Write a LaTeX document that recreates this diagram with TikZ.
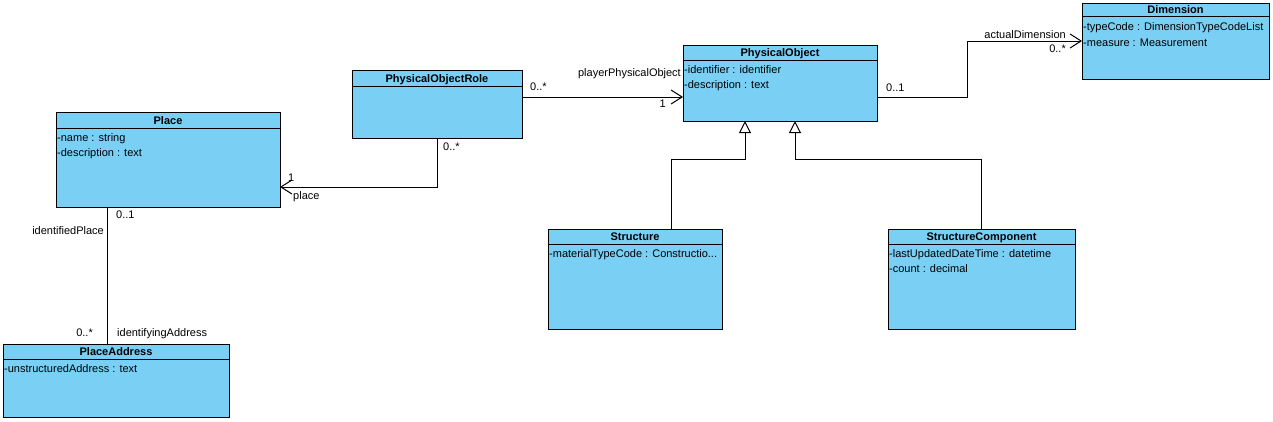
\documentclass[tikz,border=0pt]{standalone}
\usepackage{fontspec}
\setmainfont{Liberation Sans}
\usetikzlibrary{arrows.meta}
\definecolor{umlblue}{RGB}{122,207,245}
\newcommand{\umlclass}[7]{%
  \node[classbox, minimum width={#4-#2}, minimum height={#5-#3}, anchor=north west] (#1) at (#2,#3) {};
  \draw[line width=1pt] ([yshift=-#6pt]#1.north west) -- ([yshift=-#6pt]#1.north east);
  \node[classtitle] (#1-title) at ([yshift={-(#6)/2*1pt}]#1.north) {#7};
}
\begin{document}
\begin{tikzpicture}[x=1pt,y=-1pt,
  font=\fontsize{11}{13}\selectfont,
  classbox/.style={draw, line width=1pt, fill=umlblue, inner sep=0pt, outer sep=0pt},
  classtitle/.style={font=\fontsize{11}{13}\selectfont\bfseries, inner sep=0pt, text height=9pt, text depth=1pt},
  attr/.style={anchor=west, inner sep=0pt, text height=9pt, text depth=1.5pt},
  lbl/.style={inner sep=0pt, text height=9pt, text depth=1.5pt},
  assoc/.style={line width=1pt, -{Straight Barb[length=11pt,width=14pt,line width=1pt]}},
  gen/.style={line width=1pt, -{Triangle[open,length=12pt,width=12pt,line width=1pt,fill=white]}},
  plain/.style={line width=1pt}]
\useasboundingbox (0,0) rectangle (1273,421);
\fill[white] (0,0) rectangle (1273,421);

% classes
\umlclass{Place}{56}{112}{280}{207}{16}{Place}
\node[attr] (Place-a1) at (57,137.5) {-name : string};
\node[attr] (Place-a2) at (57,152.5) {-description : text};

\umlclass{POR}{352}{70}{522}{138}{16}{PhysicalObjectRole}

\umlclass{PO}{683}{45}{877}{121}{15}{PhysicalObject}
\node[attr] (PO-a1) at (684,70) {-identifier : identifier};
\node[attr] (PO-a2) at (684,85) {-description : text};

\umlclass{Dim}{1082}{3}{1269}{79}{13}{Dimension}
\node[attr] (Dim-a1) at (1083,27) {-typeCode : DimensionTypeCodeList};
\node[attr] (Dim-a2) at (1083,42.5) {-measure : Measurement};

\umlclass{Str}{548}{229}{722}{329}{15}{Structure}
\node[attr] (Str-a1) at (549,254) {-materialTypeCode : Constructio...};

\umlclass{SC}{888}{229}{1075}{329}{15}{StructureComponent}
\node[attr] (SC-a1) at (889,254) {-lastUpdatedDateTime : datetime};
\node[attr] (SC-a2) at (889,269) {-count : decimal};

\umlclass{PA}{3}{344}{229}{417}{15}{PlaceAddress}
\node[attr] (PA-a1) at (4,368.5) {-unstructuredAddress : text};

% associations
\draw[assoc] ([yshift=7pt]POR.east) -- ([yshift=7pt]POR.east -| PO.west);
\node[lbl, anchor=west] (l1) at (530,87) {0..*};
\node[lbl, anchor=east] (l2) at (666,103.5) {1};
\node[lbl, anchor=east] (l3) at (681,73) {playerPhysicalObject};

\draw[assoc] (POR.south) |- ([yshift=-27.5pt]Place.east);
\node[lbl, anchor=west] (l4) at (443,146.5) {0..*};
\node[lbl, anchor=west] (l5) at (288,178) {1};
\node[lbl, anchor=west] (l6) at (293,195.5) {place};

\coordinate (bd) at (967,97);
\draw[assoc] (PO.east |- bd) -- (bd) |- (Dim.west);
\node[lbl, anchor=west] (l7) at (886,88) {0..1};
\node[lbl, anchor=east] (l8) at (1066,34.5) {actualDimension};
\node[lbl, anchor=east] (l9) at (1066,49) {0..*};

% generalizations
\coordinate (g1) at (745,159);
\coordinate (g2) at (795,159);
\draw[gen] (Str.north -| 671,0) |- (g1) -- (g1 |- PO.south);
\draw[gen] (SC.north) |- (g2) -- (g2 |- PO.south);

% place - address
\coordinate (pa) at (107,0);
\draw[plain] (pa |- Place.south) -- (pa |- PA.north);
\node[lbl, anchor=west] (l10) at (116,215) {0..1};
\node[lbl, anchor=east] (l11) at (104,230.5) {identifiedPlace};
\node[lbl, anchor=east] (l12) at (93,332.5) {0..*};
\node[lbl, anchor=west] (l13) at (117,332.5) {identifyingAddress};
\end{tikzpicture}
\end{document}
